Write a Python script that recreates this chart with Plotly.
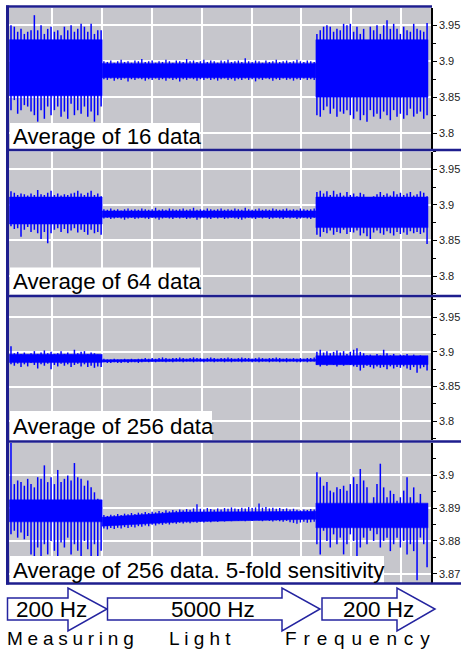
import plotly.graph_objects as go

# ---------------- data ----------------
X_RANGE = [0.13, 8.6]
A_START, C_START, DT = 0.17, 6.31, 0.067      # 200 Hz bursts: sample spacing
A_END, C_END = 2.0, 8.54
B_START, B_END = 2.0, 6.29                     # 5000 Hz part
B_CORE_X = [2.0, 3.6, 6.29]

# Panel 1 : average of 16 data
P1_A_HI = [3.950, 3.948, 3.941, 3.945, 3.938, 3.941, 3.943, 3.964, 3.943, 3.950, 3.938, 3.945, 3.948, 3.941,
           3.943, 3.936, 3.948, 3.943, 3.950, 3.941, 3.945, 3.952, 3.948, 3.941, 3.952, 3.938, 3.943, 3.943]
P1_A_LO = [3.832, 3.846, 3.827, 3.832, 3.839, 3.837, 3.830, 3.825, 3.816, 3.832, 3.820, 3.837, 3.825, 3.832,
           3.837, 3.823, 3.830, 3.820, 3.841, 3.825, 3.832, 3.827, 3.837, 3.823, 3.830, 3.816, 3.825, 3.837]
P1_B_HI = [3.900, 3.899, 3.901, 3.898, 3.900, 3.902, 3.899, 3.900, 3.898, 3.901, 3.900, 3.903, 3.899, 3.900, 3.901,
           3.898, 3.900, 3.899, 3.902, 3.900, 3.898, 3.901, 3.900, 3.899, 3.903, 3.900, 3.901, 3.899, 3.900, 3.902,
           3.899, 3.901, 3.900, 3.898, 3.901, 3.900, 3.902, 3.899, 3.900, 3.901, 3.899, 3.904, 3.900, 3.899, 3.901,
           3.900, 3.898, 3.901, 3.899, 3.900, 3.902, 3.899, 3.900, 3.901, 3.899, 3.900, 3.902, 3.900, 3.899, 3.901,
           3.900, 3.899]
P1_B_LO = [3.875, 3.874, 3.876, 3.873, 3.875, 3.874, 3.876, 3.872, 3.875, 3.874, 3.876, 3.875, 3.873, 3.875, 3.874,
           3.876, 3.874, 3.875, 3.873, 3.876, 3.874, 3.875, 3.872, 3.875, 3.874, 3.876, 3.875, 3.873, 3.875, 3.874,
           3.876, 3.874, 3.875, 3.873, 3.875, 3.876, 3.874, 3.875, 3.873, 3.875, 3.874, 3.876, 3.874, 3.875, 3.872,
           3.875, 3.874, 3.876, 3.875, 3.873, 3.875, 3.874, 3.876, 3.874, 3.875, 3.873, 3.875, 3.874, 3.876, 3.874,
           3.875, 3.874]
P1_C_HI = [3.938, 3.943, 3.948, 3.950, 3.948, 3.941, 3.945, 3.943, 3.952, 3.950, 3.952, 3.941, 3.948, 3.938, 3.945,
           3.929, 3.948, 3.943, 3.950, 3.938, 3.950, 3.957, 3.945, 3.952, 3.945, 3.938, 3.948, 3.943, 3.941, 3.952,
           3.945, 3.943, 3.941, 3.953]
P1_C_LO = [3.825, 3.823, 3.832, 3.837, 3.827, 3.834, 3.823, 3.830, 3.827, 3.832, 3.825, 3.820, 3.830, 3.818, 3.825,
           3.816, 3.832, 3.823, 3.827, 3.820, 3.830, 3.825, 3.818, 3.832, 3.823, 3.827, 3.820, 3.825, 3.834, 3.823,
           3.827, 3.830, 3.820, 3.825]

# Panel 2 : average of 64 data
P2_A_HI = [3.919, 3.917, 3.914, 3.916, 3.915, 3.913, 3.916, 3.914, 3.921, 3.915, 3.914, 3.917, 3.920, 3.914,
           3.916, 3.913, 3.915, 3.914, 3.916, 3.917, 3.920, 3.916, 3.914, 3.917, 3.920, 3.914, 3.916, 3.912]
P2_A_LO = [3.870, 3.866, 3.867, 3.855, 3.865, 3.869, 3.862, 3.865, 3.860, 3.852, 3.862, 3.846, 3.860, 3.865,
           3.867, 3.862, 3.866, 3.860, 3.864, 3.867, 3.861, 3.865, 3.862, 3.858, 3.865, 3.860, 3.862, 3.858]
P2_B_HI = [3.894, 3.893, 3.895, 3.893, 3.894, 3.892, 3.894, 3.895, 3.893, 3.894, 3.893, 3.895, 3.894, 3.893, 3.894,
           3.896, 3.893, 3.894, 3.893, 3.895, 3.894, 3.893, 3.894, 3.895, 3.893, 3.894, 3.896, 3.893, 3.894, 3.893,
           3.895, 3.894, 3.893, 3.894, 3.895, 3.893, 3.894, 3.893, 3.895, 3.894, 3.893, 3.896, 3.894, 3.893, 3.894,
           3.895, 3.893, 3.894, 3.893, 3.895, 3.894, 3.893, 3.894, 3.895, 3.893, 3.894, 3.893, 3.895, 3.894, 3.893,
           3.894, 3.895]
P2_B_LO = [3.881, 3.882, 3.880, 3.881, 3.882, 3.881, 3.879, 3.881, 3.882, 3.880, 3.881, 3.882, 3.881, 3.880, 3.882,
           3.881, 3.879, 3.881, 3.882, 3.881, 3.880, 3.882, 3.881, 3.882, 3.880, 3.881, 3.882, 3.879, 3.881, 3.882,
           3.881, 3.880, 3.882, 3.881, 3.882, 3.880, 3.881, 3.882, 3.881, 3.880, 3.879, 3.881, 3.882, 3.881, 3.880,
           3.882, 3.881, 3.882, 3.880, 3.881, 3.882, 3.881, 3.880, 3.882, 3.881, 3.882, 3.880, 3.881, 3.882, 3.881,
           3.880, 3.882]
P2_C_HI = [3.918, 3.920, 3.916, 3.919, 3.914, 3.920, 3.915, 3.917, 3.913, 3.918, 3.914, 3.916, 3.912, 3.917, 3.915,
           3.908, 3.906, 3.912, 3.915, 3.918, 3.914, 3.916, 3.913, 3.919, 3.915, 3.917, 3.914, 3.916, 3.918, 3.913,
           3.915, 3.919, 3.917, 3.912]
P2_C_LO = [3.858, 3.855, 3.862, 3.860, 3.864, 3.858, 3.862, 3.860, 3.865, 3.859, 3.862, 3.861, 3.864, 3.857, 3.860,
           3.856, 3.852, 3.861, 3.864, 3.860, 3.858, 3.863, 3.860, 3.857, 3.862, 3.859, 3.861, 3.858, 3.863, 3.860,
           3.862, 3.859, 3.861, 3.845]

# Panel 3 : average of 256 data
P3_A_HI = [3.908, 3.898, 3.900, 3.897, 3.899, 3.896, 3.898, 3.901, 3.897, 3.899, 3.902, 3.898, 3.900, 3.897,
           3.898, 3.901, 3.897, 3.899, 3.896, 3.903, 3.898, 3.900, 3.901, 3.897, 3.899, 3.898, 3.896, 3.894]
P3_A_LO = [3.882, 3.880, 3.883, 3.878, 3.882, 3.879, 3.884, 3.881, 3.876, 3.882, 3.880, 3.883, 3.875, 3.881,
           3.879, 3.883, 3.880, 3.882, 3.878, 3.881, 3.883, 3.879, 3.882, 3.878, 3.880, 3.877, 3.879, 3.878]
P3_B_HI = [3.890, 3.889, 3.889, 3.890, 3.889, 3.889, 3.890, 3.889, 3.890, 3.889, 3.890, 3.890, 3.891, 3.890, 3.891,
           3.890, 3.891, 3.892, 3.891, 3.890, 3.891, 3.891, 3.892, 3.891, 3.890, 3.891, 3.892, 3.891, 3.891, 3.890,
           3.891, 3.892, 3.891, 3.890, 3.891, 3.891, 3.892, 3.891, 3.890, 3.891, 3.892, 3.891, 3.891, 3.890, 3.891,
           3.892, 3.891, 3.890, 3.891, 3.891, 3.892, 3.891, 3.890, 3.891, 3.890, 3.891, 3.890, 3.891, 3.890, 3.891,
           3.891, 3.892]
P3_B_LO = [3.885, 3.884, 3.884, 3.885, 3.884, 3.884, 3.885, 3.884, 3.885, 3.885, 3.884, 3.885, 3.886, 3.885, 3.886,
           3.885, 3.886, 3.886, 3.885, 3.886, 3.885, 3.886, 3.886, 3.885, 3.886, 3.886, 3.885, 3.886, 3.886, 3.885,
           3.886, 3.886, 3.885, 3.886, 3.886, 3.885, 3.886, 3.885, 3.886, 3.886, 3.885, 3.886, 3.886, 3.885, 3.886,
           3.885, 3.886, 3.886, 3.885, 3.886, 3.886, 3.885, 3.886, 3.885, 3.886, 3.886, 3.885, 3.885, 3.886, 3.885,
           3.886, 3.886]
P3_C_HI = [3.900, 3.903, 3.899, 3.901, 3.898, 3.900, 3.902, 3.899, 3.901, 3.897, 3.900, 3.903, 3.905, 3.900, 3.898,
           3.895, 3.896, 3.894, 3.897, 3.895, 3.903, 3.898, 3.895, 3.897, 3.894, 3.896, 3.895, 3.897, 3.894, 3.896,
           3.893, 3.895, 3.894, 3.892]
P3_C_LO = [3.881, 3.879, 3.882, 3.880, 3.883, 3.881, 3.879, 3.882, 3.880, 3.882, 3.881, 3.879, 3.878, 3.873, 3.877,
           3.880, 3.878, 3.876, 3.879, 3.877, 3.878, 3.875, 3.879, 3.876, 3.878, 3.877, 3.879, 3.876, 3.874, 3.878,
           3.870, 3.876, 3.878, 3.873]

# Panel 4 : average of 256 data, 5-fold sensitivity
P4_A_HI = [3.9110, 3.8973, 3.8984, 3.8979, 3.8968, 3.8989, 3.8973, 3.8963, 3.8994, 3.8989, 3.9030, 3.8979, 3.8994,
           3.8973, 3.9016, 3.8979, 3.8989, 3.8999, 3.8984, 3.9037, 3.8994, 3.8989, 3.8968, 3.8984, 3.8963, 3.8948,
           3.8928, 3.8922]
P4_A_LO = [3.8820, 3.8831, 3.8810, 3.8826, 3.8805, 3.8815, 3.8759, 3.8749, 3.8780, 3.8739, 3.8790, 3.8759, 3.8800,
           3.8770, 3.8734, 3.8795, 3.8780, 3.8810, 3.8759, 3.8790, 3.8770, 3.8744, 3.8800, 3.8775, 3.8754, 3.8790,
           3.8749, 3.8770]
P4_B_HI = [3.8879, 3.8876, 3.8880, 3.8878, 3.8882, 3.8879, 3.8883, 3.8881, 3.8885, 3.8882, 3.8886, 3.8884, 3.8888,
           3.8885, 3.8889, 3.8887, 3.8891, 3.8888, 3.8893, 3.8890, 3.8894, 3.8892, 3.8896, 3.8893, 3.8897, 3.8895,
           3.8899, 3.8912, 3.8898, 3.8896, 3.8900, 3.8897, 3.8895, 3.8899, 3.8896, 3.8900, 3.8898, 3.8902, 3.8899,
           3.8897, 3.8901, 3.8899, 3.8903, 3.8900, 3.8902, 3.8914, 3.8901, 3.8903, 3.8899, 3.8901, 3.8898, 3.8900,
           3.8897, 3.8899, 3.8896, 3.8898, 3.8895, 3.8893, 3.8896, 3.8894, 3.8897, 3.8896]
P4_B_LO = [3.8838, 3.8835, 3.8839, 3.8836, 3.8840, 3.8838, 3.8842, 3.8839, 3.8843, 3.8841, 3.8845, 3.8843, 3.8847,
           3.8845, 3.8849, 3.8847, 3.8851, 3.8849, 3.8852, 3.8850, 3.8854, 3.8852, 3.8855, 3.8853, 3.8856, 3.8854,
           3.8857, 3.8855, 3.8858, 3.8856, 3.8859, 3.8857, 3.8860, 3.8858, 3.8861, 3.8859, 3.8862, 3.8860, 3.8863,
           3.8861, 3.8862, 3.8860, 3.8863, 3.8861, 3.8864, 3.8862, 3.8860, 3.8863, 3.8861, 3.8859, 3.8862, 3.8860,
           3.8858, 3.8861, 3.8857, 3.8855, 3.8852, 3.8856, 3.8858, 3.8855, 3.8857, 3.8858]
P4_C_HI = [3.9009, 3.8994, 3.8968, 3.8979, 3.8953, 3.8948, 3.8963, 3.8958, 3.8968, 3.8953, 3.8973, 3.8994, 3.8973,
           3.9019, 3.8984, 3.8963, 3.8912, 3.8933, 3.8973, 3.9035, 3.8963, 3.8933, 3.8953, 3.8943, 3.8922, 3.8933,
           3.8953, 3.8994, 3.8933, 3.8963, 3.8917, 3.8943, 3.8907, 3.8882]
P4_C_LO = [3.8790, 3.8759, 3.8831, 3.8800, 3.8780, 3.8820, 3.8790, 3.8810, 3.8759, 3.8790, 3.8820, 3.8800, 3.8754,
           3.8780, 3.8810, 3.8790, 3.8831, 3.8800, 3.8820, 3.8780, 3.8800, 3.8810, 3.8769, 3.8790, 3.8810, 3.8780,
           3.8800, 3.8759, 3.8790, 3.8769, 3.8680, 3.8810, 3.8790, 3.8720]

# dense cores (panels 1..4)
CORE_A_LO = [3.852, 3.873, 3.8845, 3.8858]
CORE_A_HI = [3.930, 3.911, 3.8965, 3.8925]
CORE_C_LO = [3.850, 3.868, 3.8815, 3.8840]
CORE_C_HI = [3.930, 3.911, 3.8945, 3.8915]
B_CORE_LO = [[3.877, 3.877, 3.877], [3.8825, 3.8825, 3.8825], [3.8855, 3.8865, 3.8865], [3.8845, 3.8858, 3.8866]]
B_CORE_HI = [[3.897, 3.897, 3.897], [3.8915, 3.8915, 3.8915], [3.8885, 3.8895, 3.8895], [3.8872, 3.8888, 3.8890]]

PANEL_LABELS = ["Average of 16 data", "Average of 64 data", "Average of 256 data",
                "Average of 256 data. 5-fold sensitivity"]
TICKS_COARSE = [3.8, 3.85, 3.9, 3.95]
TICKS_FINE = [3.87, 3.88, 3.89, 3.9]
Y_RANGES = [[3.778, 3.974], [3.774, 3.975], [3.773, 3.979], [3.8672, 3.9098]]
FREQ_LABELS = ["200 Hz", "5000 Hz", "200 Hz"]
TITLE_WORDS = ["Measuring", "Light", "Frequency"]

PANELS = [
    (P1_A_HI, P1_A_LO, P1_B_HI, P1_B_LO, P1_C_HI, P1_C_LO),
    (P2_A_HI, P2_A_LO, P2_B_HI, P2_B_LO, P2_C_HI, P2_C_LO),
    (P3_A_HI, P3_A_LO, P3_B_HI, P3_B_LO, P3_C_HI, P3_C_LO),
    (P4_A_HI, P4_A_LO, P4_B_HI, P4_B_LO, P4_C_HI, P4_C_LO),
]

# ---------------- layout geometry ----------------
W, H = 461, 655
ML, MR, MT, MB = 9, 30, 6, 72
PW, PH = W - ML - MR, H - MT - MB


def px_x(px):
    return (px - ML) / PW


def px_y(py):
    return (H - MB - py) / PH


PANEL_PX = [(8, 149), (151.5, 294.5), (297, 440), (443, 583)]
LABEL_BOX_RIGHT = [200, 200, 212, 384]
LABEL_BOX_H = [26, 27, 29, 27]

BLUE = "#0000ff"
NAVY = "#1e1e8e"
BG = "#c6c6cc"
FONT = "Arial, Liberation Sans, sans-serif"

fig = go.Figure()


def strokes(x0, step, hi, lo):
    xs, ys = [], []
    for i, (h, l) in enumerate(zip(hi, lo)):
        xi = x0 + i * step
        xs += [xi, xi, None]
        ys += [h, l, None]
    return xs, ys


def band(xa, xb, lo, hi):
    return [xa, xb, xb, xa, xa], [lo, lo, hi, hi, lo]


for p, (ahi, alo, bhi, blo, chi, clo) in enumerate(PANELS):
    xa = "x" if p == 0 else f"x{p + 1}"
    ya = "y" if p == 0 else f"y{p + 1}"
    common = dict(xaxis=xa, yaxis=ya, showlegend=False, hoverinfo="skip")
    # dense cores of the 200 Hz bursts
    for (x_a, x_b, lo, hi) in [(A_START - 0.03, A_END, CORE_A_LO[p], CORE_A_HI[p]),
                               (C_START - 0.02, C_END, CORE_C_LO[p], CORE_C_HI[p])]:
        bxs, bys = band(x_a, x_b, lo, hi)
        fig.add_trace(go.Scatter(x=bxs, y=bys, mode="lines", fill="toself", fillcolor=BLUE,
                                 line=dict(color=BLUE, width=0.5), **common))
    # dense core of the 5000 Hz part
    cx = B_CORE_X + B_CORE_X[::-1] + [B_CORE_X[0]]
    cy = B_CORE_HI[p] + B_CORE_LO[p][::-1] + [B_CORE_HI[p][0]]
    fig.add_trace(go.Scatter(x=cx, y=cy, mode="lines", fill="toself", fillcolor=BLUE,
                             line=dict(color=BLUE, width=0.5), **common))
    # spikes
    b_step = (B_END - B_START) / len(bhi)
    for x0, step, hi, lo, w in [(A_START, DT, ahi, alo, 1.5), (C_START, DT, chi, clo, 1.5),
                                (B_START + b_step / 2, b_step, bhi, blo, 1.4)]:
        xs, ys = strokes(x0, step, hi, lo)
        fig.add_trace(go.Scatter(x=xs, y=ys, mode="lines", connectgaps=False,
                                 line=dict(color=BLUE, width=w), **common))

layout = dict(
    width=W, height=H, margin=dict(l=ML, r=MR, t=MT, b=MB, autoexpand=False),
    paper_bgcolor="white", plot_bgcolor=BG, showlegend=False,
    font=dict(family=FONT, color="black"),
)

shapes = []
annotations = []
for p in range(4):
    top, bot = PANEL_PX[p]
    dom = [px_y(bot), px_y(top)]
    xk = "xaxis" if p == 0 else f"xaxis{p + 1}"
    yk = "yaxis" if p == 0 else f"yaxis{p + 1}"
    ya = "y" if p == 0 else f"y{p + 1}"
    xa = "x" if p == 0 else f"x{p + 1}"
    layout[xk] = dict(domain=[0, 1], anchor=ya, range=X_RANGE, showticklabels=False, ticks="",
                      showgrid=True, gridcolor="white", gridwidth=1.6, dtick=1, tick0=0,
                      zeroline=False, showline=False, fixedrange=True, automargin=False)
    ticks = TICKS_FINE if p == 3 else TICKS_COARSE
    minor_dt = 0.005 if p == 3 else 0.025
    layout[yk] = dict(domain=dom, anchor=xa, side="right", range=Y_RANGES[p],
                      tickvals=ticks, ticktext=[f"{t:g}" for t in ticks],
                      ticks="outside", ticklen=4, tickwidth=1, tickcolor="black",
                      minor=dict(ticks="outside", ticklen=3, tickcolor="black", dtick=minor_dt,
                                 tick0=ticks[0], showgrid=False),
                      tickfont=dict(size=11, color="#222222", family=FONT),
                      showgrid=True, gridcolor="white", gridwidth=1.6,
                      showline=True, linecolor="black", linewidth=1.5, mirror=False,
                      zeroline=False, fixedrange=True, automargin=False)
    shapes.append(dict(type="rect", xref="paper", yref="paper",
                       x0=px_x(10), x1=px_x(LABEL_BOX_RIGHT[p]),
                       y0=px_y(bot), y1=px_y(bot - LABEL_BOX_H[p]),
                       fillcolor="white", line=dict(width=0), layer="above"))
    annotations.append(dict(text=PANEL_LABELS[p], xref="paper", yref="paper",
                            x=px_x(10.5), y=px_y(bot - LABEL_BOX_H[p] / 2 + 0.5),
                            xanchor="left", yanchor="middle",
                            showarrow=False, font=dict(size=22.3, color="black", family=FONT)))

# navy panel borders
for i, py in enumerate([6.5, 150, 296, 441.5, 583.5]):
    x1 = px_x(432) if i == 0 else px_x(461)
    shapes.append(dict(type="line", xref="paper", yref="paper", x0=px_x(6), x1=x1,
                       y0=px_y(py), y1=px_y(py), line=dict(color=NAVY, width=2.5), layer="above"))
shapes.append(dict(type="line", xref="paper", yref="paper", x0=px_x(7.5), x1=px_x(7.5),
                   y0=px_y(5.5), y1=px_y(584.5), line=dict(color=NAVY, width=3), layer="above"))

# frequency arrows
ARROWS_PX = [(7.5, 68, 107), (107.5, 282, 320), (322, 397, 435)]
TEXT_CX = [51, 213, 378]
BODY_T, BODY_B, HEAD_T, HEAD_B = 598, 620, 588, 631
TIP_Y = (BODY_T + BODY_B) / 2
for (l, hb, tip), lab, cx in zip(ARROWS_PX, FREQ_LABELS, TEXT_CX):
    pts = [(l, BODY_T), (hb, BODY_T), (hb, HEAD_T), (tip, TIP_Y), (hb, HEAD_B), (hb, BODY_B), (l, BODY_B)]
    path = "M " + " L ".join(f"{px_x(a):.5f},{px_y(b):.5f}" for a, b in pts) + " Z"
    shapes.append(dict(type="path", xref="paper", yref="paper", path=path,
                       fillcolor="white", line=dict(color="#2424a0", width=1.5), layer="above"))
    annotations.append(dict(text=lab, xref="paper", yref="paper", x=px_x(cx), y=px_y(TIP_Y + 0.5),
                            xanchor="center", yanchor="middle", showarrow=False,
                            font=dict(size=22.5, color="black", family=FONT)))

WORD_CX = [70, 200, 357.5]
WORD_GAPS = ["\u2005", " ", " \u200a"]
for w, cx, gap in zip(TITLE_WORDS, WORD_CX, WORD_GAPS):
    annotations.append(dict(text=gap.join(w), xref="paper", yref="paper", x=px_x(cx), y=px_y(638),
                            xanchor="center", yanchor="middle", showarrow=False,
                            font=dict(size=19, color="black", family=FONT)))

layout["shapes"] = shapes
layout["annotations"] = annotations
fig.update_layout(**layout)
fig.write_html("out.html", config={"displayModeBar": False},
               post_script="document.body.style.margin='0';")
